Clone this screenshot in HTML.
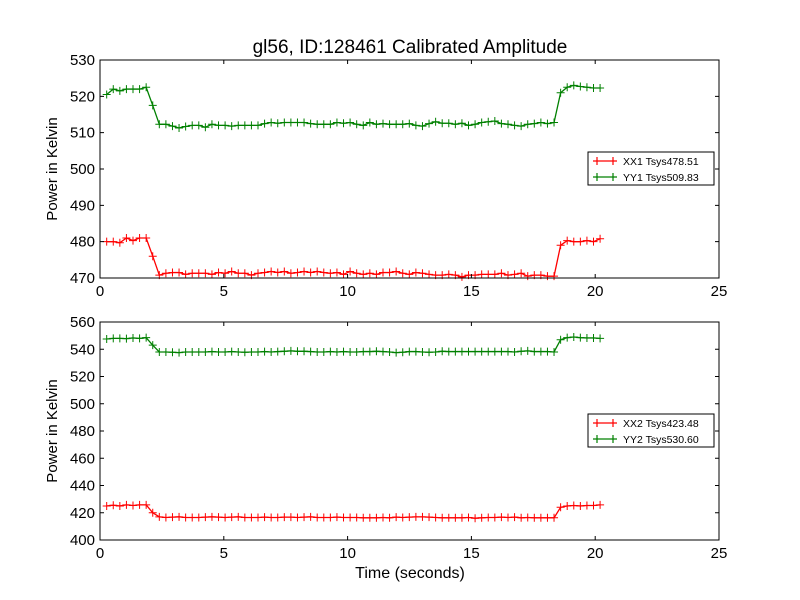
<!DOCTYPE html>
<html><head><meta charset="utf-8"><style>body{margin:0;background:#fff}svg{display:block;font-family:"Liberation Sans","DejaVu Sans",sans-serif}</style></head>
<body>
<svg id="chart" width="800" height="600" viewBox="0 0 800 600" xmlns="http://www.w3.org/2000/svg">
<rect width="800" height="600" fill="#fff"/>
<text x="410" y="53" font-size="19" text-anchor="middle">gl56, ID:128461 Calibrated Amplitude</text>
<text x="410" y="578" font-size="16" text-anchor="middle">Time (seconds)</text>
</svg>
<script>
const nPts = 76;
const tStart = 0.27, tStep = 0.2657;
const yy1High1 = [520.5,522,521.5,522,522,522,522.5], yy1Trans = [517.5];
const yy1Low = [512.3,512.3,511.8,511.3,511.7,512.0,512.0,511.5,512.3,512.0,512.0,511.8,512.0,512.0,512.0,512.0,512.5,512.8,512.6,512.8,512.8,512.8,512.8,512.5,512.3,512.3,512.3,512.8,512.6,512.8,512.3,512.0,512.8,512.3,512.5,512.3,512.3,512.3,512.5,512.0,511.8,512.5,513.0,512.6,512.6,512.3,512.6,512.0,512.3,512.8,513.0,513.2,512.5,512.3,512.0,511.8,512.3,512.5,512.8,512.5,512.8];
const yy1High2 = [521,522.5,523,522.7,522.5,522.3,522.3];
const xx1High1 = [480,480,479.7,481,480.3,481,481], xx1Trans = [476];
const xx1Low = [470.8,471.3,471.5,471.5,471.0,471.3,471.3,471.3,471.0,471.5,471.3,471.8,471.3,471.3,470.8,471.3,471.5,471.8,471.5,471.8,471.3,471.5,471.8,471.5,471.8,471.5,471.3,471.5,471.0,471.8,471.3,471.0,471.3,471.0,471.5,471.5,471.8,471.3,471.0,471.5,471.3,471.0,470.8,470.8,471.0,470.8,470.3,470.8,470.8,471.0,471.0,471.0,471.3,470.8,471.0,471.3,470.5,470.8,470.8,470.5,470.5];
const xx1High2 = [479,480.3,480,480,480.3,480,480.8];
const yy2High1 = [547.5,548,548,547.8,548.3,548,548.5], yy2Trans = [543];
const yy2Low = [538,538,537.8,537.5,538,538,538,538,538.3,538,538,538.3,538,537.8,538,538,538.3,538,538.3,538.5,538.8,538.5,538.5,538.3,538,538,538.3,538,538.3,538,538,538.3,538.3,538.5,538.3,538,537.5,537.8,538.3,538.3,538,537.8,538,538.5,538.3,538.3,538.3,538.3,538.3,538.3,538.3,538.3,538.3,538.3,538,538.5,538.8,538.3,538.3,538.3,538];
const yy2High2 = [547,548.5,549,548.5,548.3,548.3,548];
const xx2High1 = [425,425.5,425,425.8,425.3,425.8,425.8], xx2Trans = [420];
const xx2Low = [417,416.5,416.8,417,416.5,416.5,416.5,416.8,417,416.8,416.5,416.8,417,416.5,416.5,416.5,416.8,416.5,416.5,416.8,416.8,416.5,416.8,417,416.5,416.5,416.5,416.8,416.5,416.5,416.5,416.3,416.3,416.3,416.5,416.3,416.8,416.5,416.8,417,417,416.8,416.5,416.3,416.3,416.3,416.3,416.5,416,416.3,416.5,416.5,416.8,416.5,416.8,416.3,416.5,416.3,416.3,416.3,416.3];
const xx2High2 = [424,425,425.3,425,425.3,425.3,425.8];
const xTicks = [0,5,10,15,20,25];
const yTicksTop = [470,480,490,500,510,520,530];
const yTicksBot = [400,420,440,460,480,500,520,540,560];

const svg = document.getElementById('chart');
const NS = 'http://www.w3.org/2000/svg';
function mk(tag, attrs, parent){const e=document.createElementNS(NS,tag);for(const k in attrs)e.setAttribute(k,attrs[k]);(parent||svg).appendChild(e);return e;}

function panel(name, top, bottom, yMin, yMax, yTicks, series, legendY){
  const L=100,R=719;
  const xs=t=>L+(t-0)/(25-0)*(R-L);
  const ys=v=>bottom-(v-yMin)/(yMax-yMin)*(bottom-top);
  const g=mk('g',{});
  
  
  series.forEach(s=>{
    const pts=s.vals.map((v,i)=>[xs(tStart+i*tStep),ys(v)]);
    const pl=mk('polyline',{points:pts.map(p=>p.join(',')).join(' '),fill:'none',stroke:s.color,'stroke-width':1.3},g);
    
    
    let d='';pts.forEach(p=>{d+=`M${p[0]-4},${p[1]}h8M${p[0]},${p[1]-4}v8`;});
    const m=mk('path',{d:d,stroke:s.color,'stroke-width':1},g);
    
    
  });
  const fr=mk('rect',{x:L,y:top,width:R-L,height:bottom-top,fill:'none',stroke:'#000','stroke-width':1},g);
  
  
  xTicks.forEach(t=>{
    const x=xs(t);
    mk('path',{d:`M${x},${bottom}v-4M${x},${top}v4`,stroke:'#000'},g);
    const tx=mk('text',{x:x,y:bottom+18,'font-size':15,'text-anchor':'middle'},g);
    tx.textContent=t;
    
    
  });
  yTicks.forEach(v=>{
    const y=ys(v);
    mk('path',{d:`M${L},${y}h4M${R},${y}h-4`,stroke:'#000'},g);
    const tx=mk('text',{x:L-5,y:y+5,'font-size':15,'text-anchor':'end'},g);
    tx.textContent=v;
    
    
  });
  const yl=mk('text',{x:0,y:0,'font-size':15,'text-anchor':'middle',transform:`translate(57,${(top+bottom)/2}) rotate(-90)`},g);
  yl.textContent='Power in Kelvin';
  
  
  const lg=mk('g',{},g);
  
  
  mk('rect',{x:588,y:legendY,width:126,height:33,fill:'#fff',stroke:'#000','stroke-width':1},lg);
  series.forEach((s,i)=>{
    const y=legendY+9+i*16;
    mk('path',{d:`M593,${y}h24M597,${y-4}v8M613,${y-4}v8`,stroke:s.color,'stroke-width':1.2},lg);
    const t=mk('text',{x:623,y:y+4,'font-size':10.5},lg);
    t.textContent=s.label;
    
    
  });
}
panel('top-panel',60,278,470,530,yTicksTop,[
  {vals:xx1High1.concat(xx1Trans,xx1Low,xx1High2),color:'#ff0000',label:'XX1 Tsys478.51'},
  {vals:yy1High1.concat(yy1Trans,yy1Low,yy1High2),color:'#008000',label:'YY1 Tsys509.83'}],152);
panel('bottom-panel',322,540,400,560,yTicksBot,[
  {vals:xx2High1.concat(xx2Trans,xx2Low,xx2High2),color:'#ff0000',label:'XX2 Tsys423.48'},
  {vals:yy2High1.concat(yy2Trans,yy2Low,yy2High2),color:'#008000',label:'YY2 Tsys530.60'}],414);
</script>
</body></html>
